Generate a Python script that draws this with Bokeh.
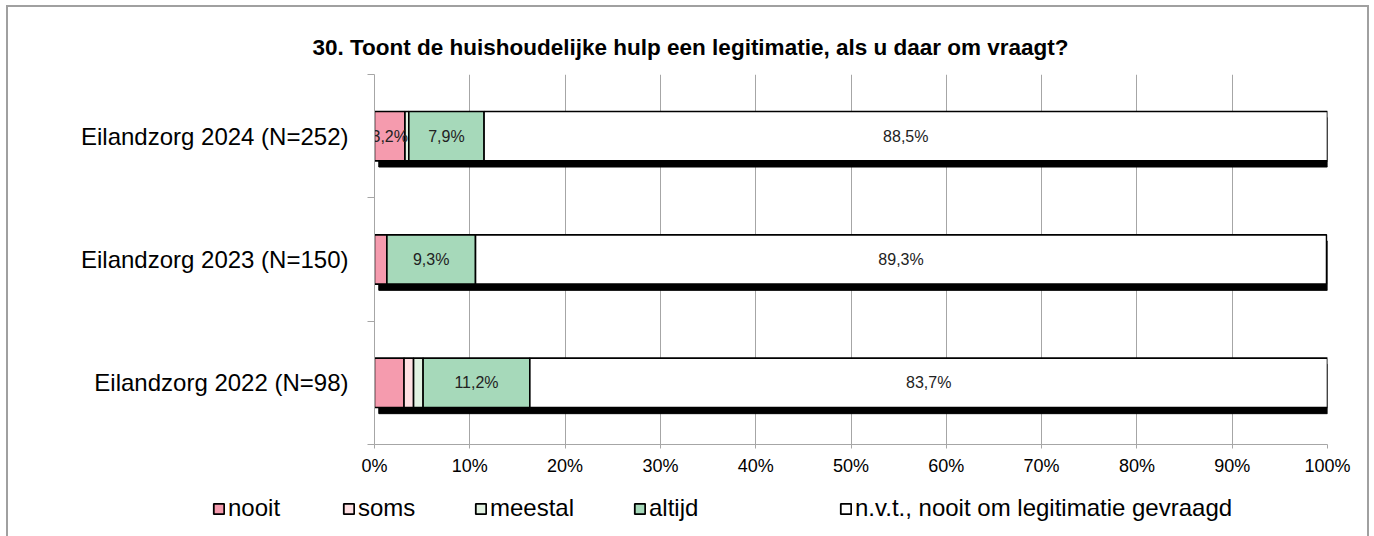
from bokeh.plotting import figure
from bokeh.models import (ColumnDataSource, FixedTicker, Legend, LegendItem,
                          PrintfTickFormatter, Range1d)
from bokeh.core.properties import value
from bokeh.embed import file_html
from bokeh.resources import INLINE

title = "30. Toont de huishoudelijke hulp een legitimatie, als u daar om vraagt?"
groups = ["Eilandzorg 2024 (N=252)", "Eilandzorg 2023 (N=150)", "Eilandzorg 2022 (N=98)"]
series = ["nooit", "soms", "meestal", "altijd", "n.v.t., nooit om legitimatie gevraagd"]
nooit = [3.2, 1.3, 3.1]
soms = [0.0, 0.0, 1.0]
meestal = [0.4, 0.0, 1.0]
altijd = [7.9, 9.3, 11.2]
nvt = [88.5, 89.3, 83.7]
shown_labels = [[True, False, False], [False, False, False], [False, False, False],
                [True, True, True], [True, True, True]]
colors = ["#F59BAE", "#FFE0E3", "#E2F2E2", "#A6D9BA", "#FFFFFF"]
x_ticks = [0, 10, 20, 30, 40, 50, 60, 70, 80, 90, 100]

values = [nooit, soms, meestal, altijd, nvt]
ypos = [2, 1, 0]

FONT = "Liberation Sans"
GRAY = "#A6A6A6"
BORDER = "#A0A0A0"

css_top = (":host { background: "
           f"linear-gradient({BORDER},{BORDER}) 6px 5px / 2px 600px no-repeat, "
           f"linear-gradient({BORDER},{BORDER}) 6px 5px / 1363px 2px no-repeat, "
           f"linear-gradient({BORDER},{BORDER}) 1367px 5px / 2px 600px no-repeat, "
           "white; }")
css_bottom = (":host { background: "
              f"linear-gradient({BORDER},{BORDER}) 6px 0px / 2px 600px no-repeat, "
              f"linear-gradient({BORDER},{BORDER}) 1367px 0px / 2px 600px no-repeat, "
              "white; }")

p = figure(width=1374, height=484, output_backend="svg", toolbar_location=None,
           x_range=Range1d(0, 100), y_range=Range1d(-0.5, 2.5),
           min_border_left=374, min_border_right=47, min_border_top=74, min_border_bottom=40,
           stylesheets=[css_top])
p.outline_line_color = None
p.background_fill_color = "white"
p.border_fill_alpha = 0

p.title.text = title
p.title.align = "left"
p.title.offset = -62
p.title.text_font = FONT
p.title.text_font_style = "bold"
p.title.text_font_size = "22.5px"
p.title.text_color = "black"
p.title.standoff = 29

# axes
p.xaxis.ticker = FixedTicker(ticks=x_ticks)
p.xaxis.formatter = PrintfTickFormatter(format="%d%%")
p.xaxis.axis_line_color = GRAY
p.xaxis.major_tick_line_color = GRAY
p.xaxis.major_tick_out = 4
p.xaxis.major_tick_in = 0
p.xaxis.minor_tick_line_color = None
p.xaxis.major_label_text_font = FONT
p.xaxis.major_label_text_font_size = "18px"
p.xaxis.major_label_text_color = "black"
p.xaxis.major_label_standoff = 7

p.yaxis.ticker = FixedTicker(ticks=ypos, minor_ticks=[-0.5, 0.5, 1.5, 2.5])
p.yaxis.major_label_overrides = {y: g for y, g in zip(ypos, groups)}
p.yaxis.axis_line_color = GRAY
p.yaxis.major_tick_line_color = None
p.yaxis.minor_tick_line_color = GRAY
p.yaxis.minor_tick_out = 7
p.yaxis.minor_tick_in = 0
p.yaxis.major_label_text_font = FONT
p.yaxis.major_label_text_font_size = "24px"
p.yaxis.major_label_text_color = "black"
p.yaxis.major_label_standoff = 19

p.xgrid.ticker = FixedTicker(ticks=x_ticks)
p.xgrid.grid_line_color = GRAY
p.ygrid.grid_line_color = None

# shadows + stacked segments
totals = [sum(v[i] for v in values) for i in range(len(groups))]
bar_h = 0.40
p.hbar(y=[y - 0.05 for y in ypos], left=[0.45] * len(ypos), right=[t + 0.1 for t in totals],
       height=bar_h, fill_color="black", line_color="black")

# legend strip (a separate root under the chart)
lg = figure(width=1374, height=52, output_backend="svg", toolbar_location=None,
            x_range=Range1d(0, 1), y_range=Range1d(0, 1),
            min_border_left=0, min_border_right=0, min_border_top=0, min_border_bottom=0,
            stylesheets=[css_bottom])
lg.axis.visible = False
lg.grid.grid_line_color = None
lg.outline_line_color = None
lg.background_fill_alpha = 0
lg.border_fill_alpha = 0

leg_x = [212, 342, 474, 633, 839]

lab_x, lab_y, lab_t = [], [], []
lefts = [0.0] * len(groups)
for s, vals, col, mask, lx in zip(series, values, colors, shown_labels, leg_x):
    rights = [l + v for l, v in zip(lefts, vals)]
    src = ColumnDataSource(dict(y=ypos, left=lefts, right=rights))
    p.hbar(y="y", left="left", right="right", height=bar_h, source=src,
           fill_color=col, line_color="black", line_width=1.6)
    # hidden twin in the legend strip, only used for the legend swatch
    r = lg.hbar(y="y", left="left", right="right", height=bar_h, source=src,
                fill_color=col, line_color="black", line_width=1.8, visible=False)
    leg = Legend(items=[LegendItem(label=s, renderers=[r])], location=(lx, 14),
                 orientation="horizontal", padding=0, margin=0, spacing=0,
                 glyph_width=13, glyph_height=13, label_standoff=3,
                 label_text_font=FONT, label_text_font_size="24px",
                 label_text_color="black",
                 inactive_fill_alpha=0,
                 border_line_color=None, background_fill_alpha=0)
    lg.add_layout(leg, "center")
    for i in range(len(groups)):
        if mask[i]:
            lab_x.append((lefts[i] + rights[i]) / 2)
            lab_y.append(ypos[i])
            lab_t.append(f"{vals[i]:.1f}%".replace(".", ","))
    lefts = rights

p.text(x=lab_x, y=lab_y, text=lab_t, text_align="center", text_baseline="middle",
       text_font=value(FONT), text_font_size="16px", text_color="#222222")

open("out.html", "w").write(file_html([p, lg], INLINE))
